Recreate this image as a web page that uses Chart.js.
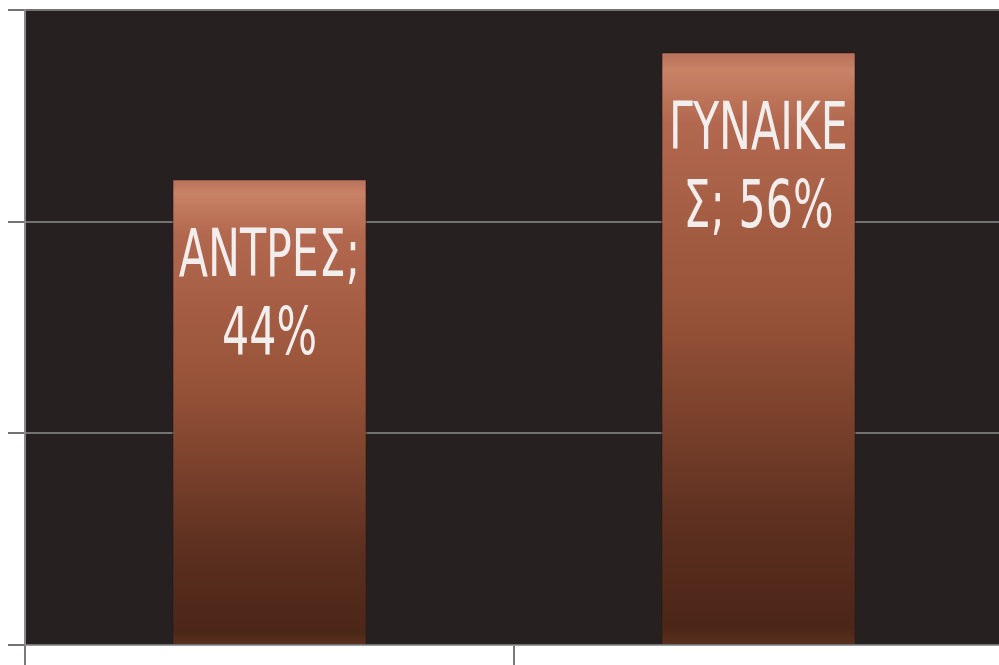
<!DOCTYPE html>
<html>
<head>
<meta charset="utf-8">
<script src="https://cdn.jsdelivr.net/npm/chart.js@4/dist/chart.umd.min.js"></script>
<style>
  html, body { margin: 0; padding: 0; background: #ffffff; overflow: hidden; }
  #wrap { width: 999px; height: 665px; overflow: hidden; }
</style>
</head>
<body>
<div id="wrap"><canvas id="myChart" width="1003" height="665"></canvas></div>
<script>
var categories = ['ΑΝΤΡΕΣ', 'ΓΥΝΑΙΚΕΣ'];
var shares = [0.44, 0.56];
var yTicks = [0, 0.2, 0.4, 0.6];
// label text as wrapped inside the bars
var barLabels = [['ΑΝΤΡΕΣ;', '44%'], ['ΓΥΝΑΙΚΕ', 'Σ; 56%']];

// dark plot area behind the bars
var plotBg = {
  id: 'plotBg',
  beforeDraw: function (chart) {
    var a = chart.chartArea, c = chart.ctx;
    c.save();
    c.fillStyle = '#262021';
    c.fillRect(a.left, a.top, a.right - a.left, a.bottom - a.top);
    c.restore();
  }
};

// white two-line labels near the top of each bar
var barText = {
  id: 'barText',
  afterDatasetsDraw: function (chart) {
    var c = chart.ctx;
    var meta = chart.getDatasetMeta(0);
    c.save();
    c.fillStyle = '#f2eeee';
    c.font = '66px "DejaVu Sans Condensed", "DejaVu Sans", sans-serif';
    c.textAlign = 'center';
    c.textBaseline = 'alphabetic';
    meta.data.forEach(function (bar, i) {
      barLabels[i].forEach(function (line, j) {
        c.save();
        c.translate(bar.x, bar.y + 97 + j * 78);
        c.scale(0.72, 1);
        c.fillText(line, 0, 0);
        c.restore();
      });
    });
    c.restore();
  }
};

function barFill(context) {
  var chart = context.chart;
  if (!chart.chartArea) return '#9a5238';
  var y = chart.scales.y;
  var top = y.getPixelForValue(shares[context.dataIndex]);
  var bottom = y.getPixelForValue(0);
  var g = chart.ctx.createLinearGradient(0, top, 0, bottom);
  g.addColorStop(0, '#b8705a');
  g.addColorStop(0.03, '#c88266');
  g.addColorStop(0.12, '#b2684e');
  g.addColorStop(0.45, '#965238');
  g.addColorStop(0.8, '#5c2f1f');
  g.addColorStop(0.97, '#4c2617');
  g.addColorStop(1, '#58301f');
  return g;
}

var ctx = document.getElementById('myChart');
var myChart = new Chart(ctx, {
  type: 'bar',
  data: {
    labels: categories,
    datasets: [{
      data: shares,
      backgroundColor: barFill,
      borderColor: '#2a1a14',
      borderWidth: 1,
      barPercentage: 0.795,
      categoryPercentage: 0.5
    }]
  },
  options: {
    responsive: false,
    animation: false,
    layout: { padding: { left: 8, top: 10, right: 0, bottom: 0 } },
    plugins: {
      legend: { display: false },
      tooltip: { enabled: false }
    },
    scales: {
      x: {
        grid: {
          offset: true,
          drawOnChartArea: false,
          drawTicks: true,
          tickLength: 20,
          tickColor: '#7a7a7a',
          lineWidth: 2
        },
        border: { color: '#9a9a9a', width: 1 },
        ticks: { display: false }
      },
      y: {
        min: 0,
        max: 0.6,
        afterBuildTicks: function (axis) {
          axis.ticks = yTicks.map(function (v) { return { value: v }; });
        },
        grid: {
          color: '#727272',
          lineWidth: 2,
          drawTicks: true,
          tickLength: 17,
          tickColor: '#727272'
        },
        border: { color: '#8a8a8a', width: 2 },
        ticks: { display: false }
      }
    }
  },
  plugins: [plotBg, barText]
});
</script>
</body>
</html>
